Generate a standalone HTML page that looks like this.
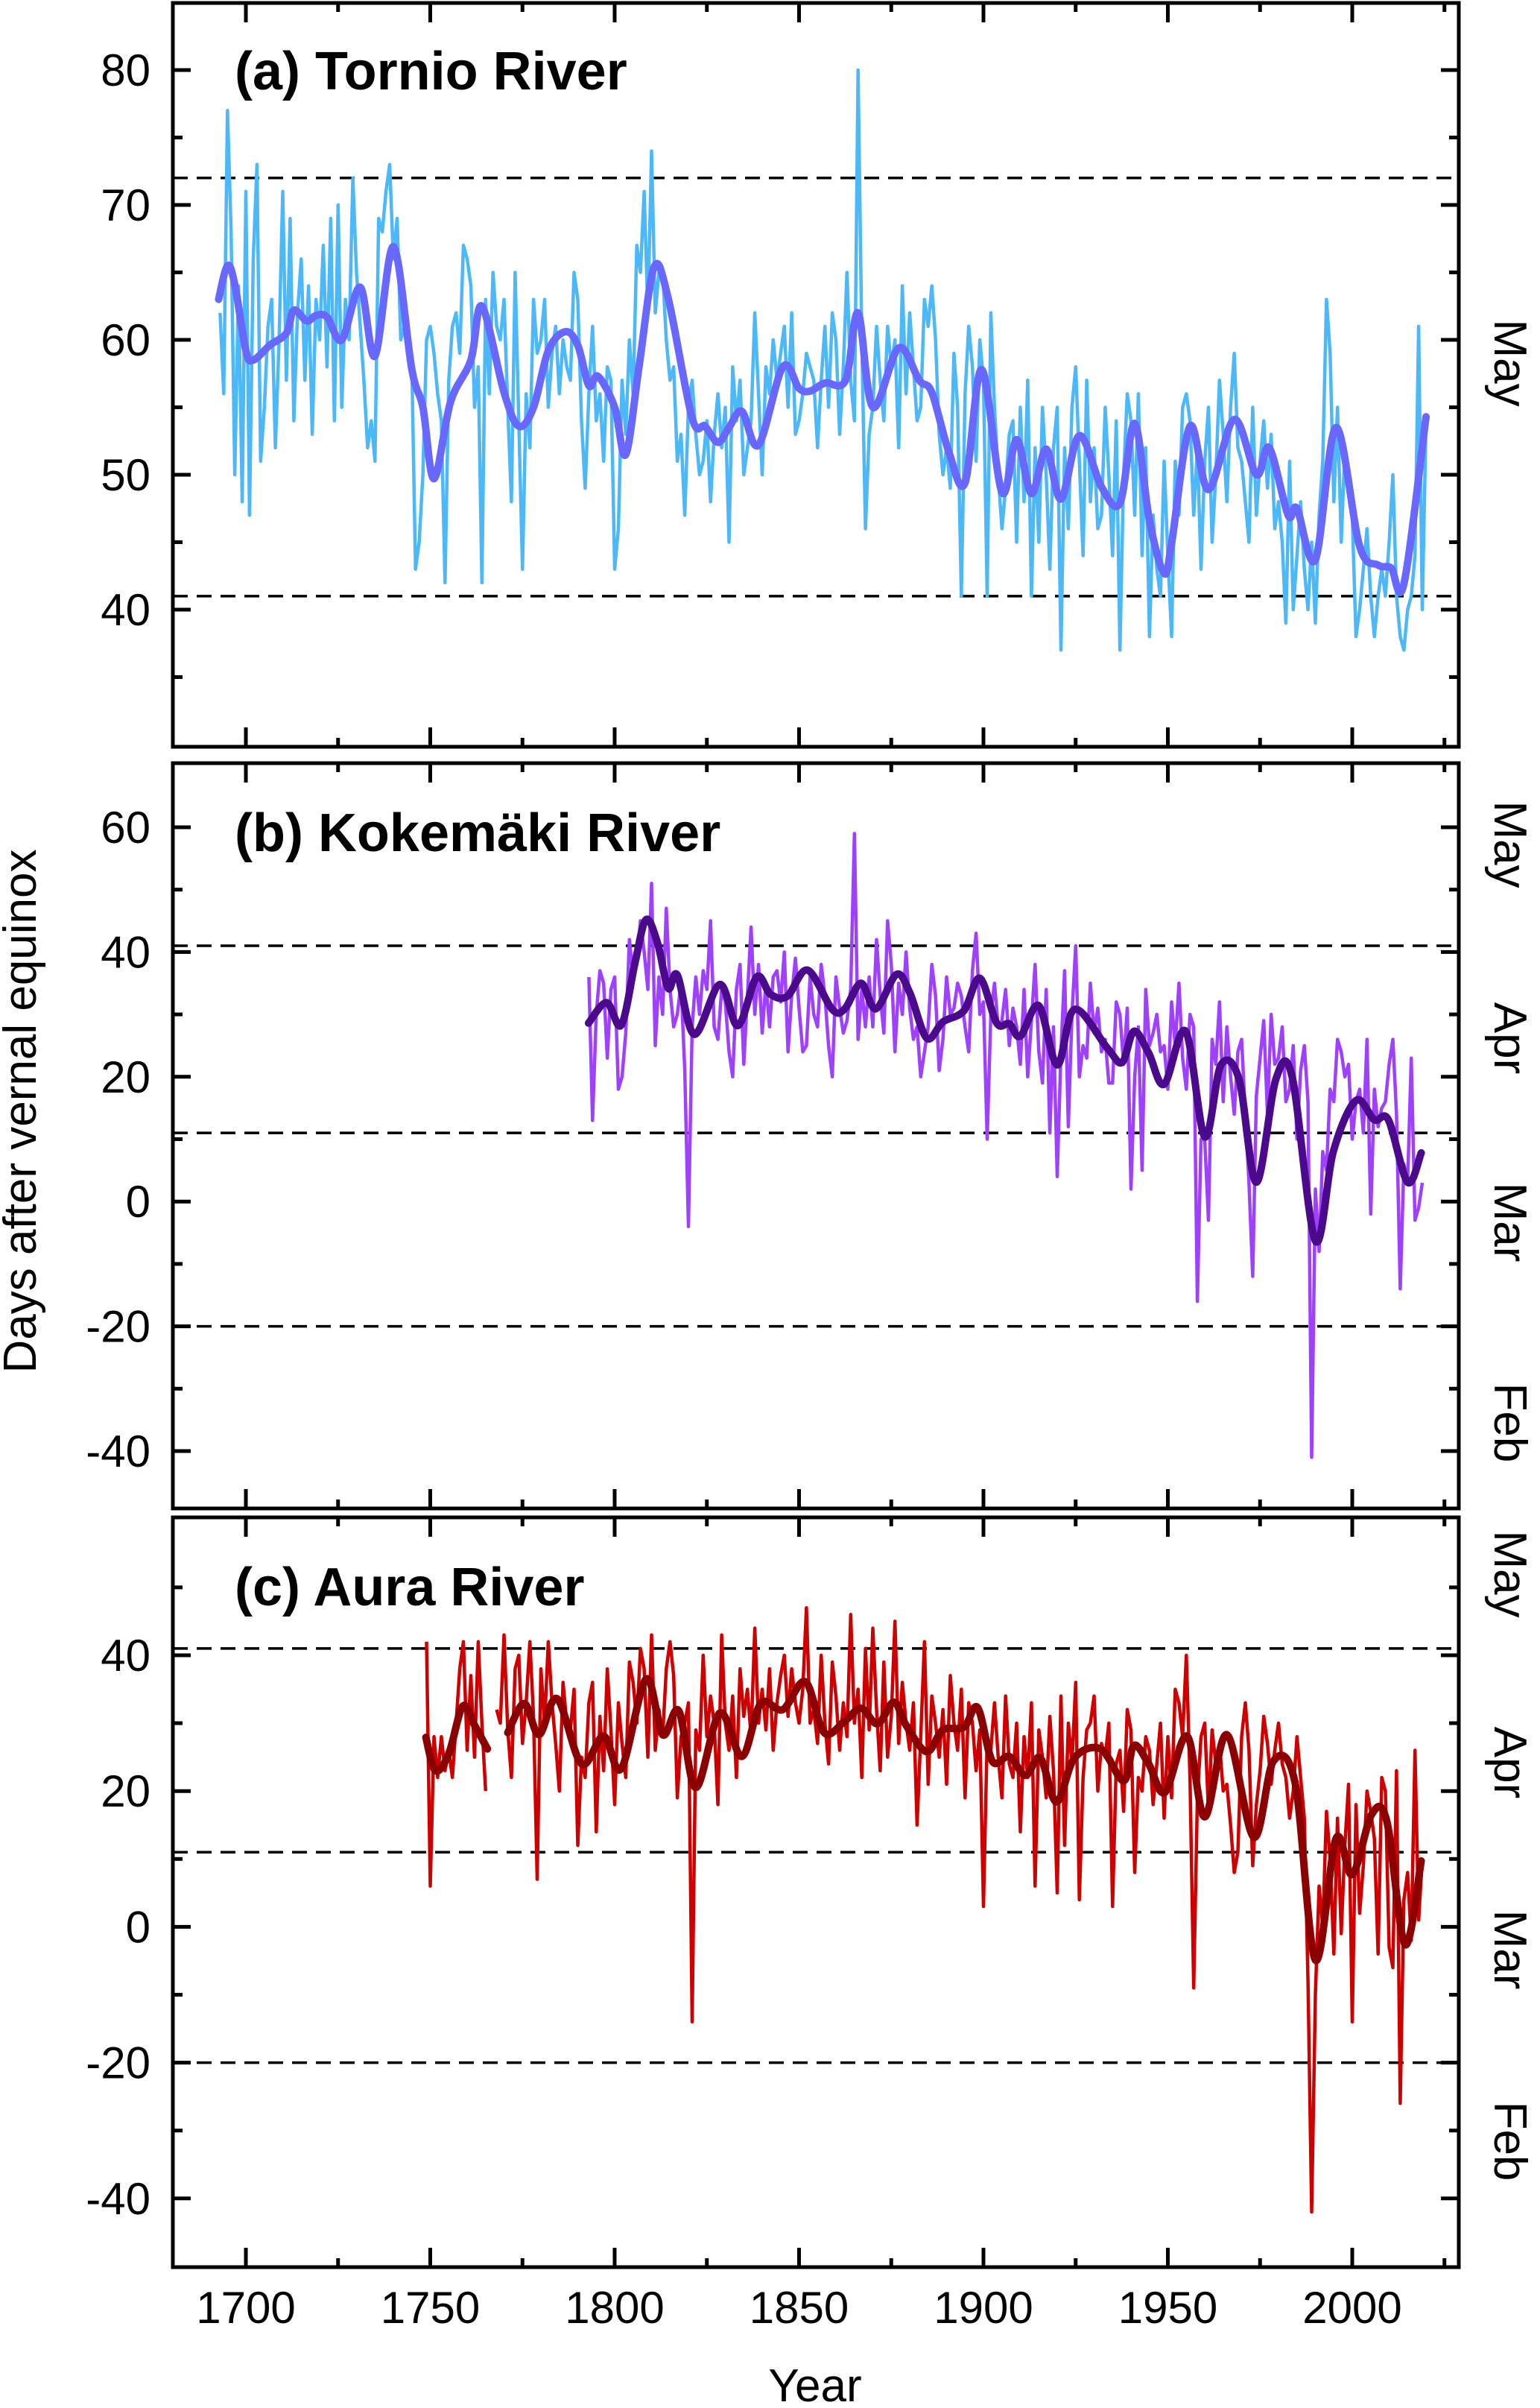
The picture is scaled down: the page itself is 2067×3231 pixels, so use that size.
<!DOCTYPE html>
<html><head><meta charset="utf-8"><style>
html,body{margin:0;padding:0;background:#fff;}
svg{display:block;font-family:"Liberation Sans",Arial,sans-serif;}
</style></head><body>
<svg id="chart" width="2067" height="3231" viewBox="0 0 2067 3231" xmlns="http://www.w3.org/2000/svg">
<text x="0" y="0" transform="translate(48,1491) rotate(-90)" text-anchor="middle" font-size="62">Days after vernal equinox</text>
<text x="1094" y="3222" text-anchor="middle" font-size="62">Year</text>
<g id="panels"></g>
</svg>
<script>
// ---- data ----
const tornioYears0 = 1693;
const tornioRaw = [62,56,77,68,50,64,48,
71,47,66,73,51,55,61,63,52,60,
71,57,69,54,62,66,57,64,53,63,
60,67,58,69,54,70,55,63,60,72,
65,61,57,52,54,51,69,68,71,73,
66,69,60,61,59,58,43,45,50,60,
61,59,56,54,42,57,61,62,59,67,
66,64,55,58,42,63,56,65,61,60,
63,55,48,65,54,43,56,52,63,59,
60,63,55,59,61,56,60,58,57,65,
63,54,49,56,61,54,56,51,58,57,
43,46,57,53,60,56,67,65,71,62,
74,62,65,65,60,57,58,51,53,47,
55,57,53,50,51,54,48,53,56,52,
55,45,58,54,57,50,52,54,62,56,
50,58,56,60,57,59,61,55,62,53,
54,56,59,58,57,52,57,61,55,62,
60,53,58,65,57,54,80,60,46,53,
55,61,57,54,61,58,60,52,64,56,
62,58,54,55,63,61,64,60,53,50,
52,49,59,55,41,56,61,58,51,60,
57,41,62,55,50,46,49,53,54,45,
55,48,57,41,52,45,55,50,43,52,
55,37,52,46,55,58,51,44,57,48,
52,46,47,55,50,44,54,37,50,56,
54,47,56,44,52,38,47,43,41,51,
44,38,51,47,55,56,54,47,52,43,
51,55,45,50,57,53,48,55,59,52,
51,48,45,55,47,51,54,49,53,46,
48,45,39,51,40,44,48,43,40,45,
39,47,51,63,59,48,55,45,52,50,
47,38,40,43,46,41,38,41,43,41,
45,50,41,38,37,40,41,44,61,40,
54];
const tornioSmoothYears = [1692.6,1695,1697,1700,1702,1706.5,1711,1713,1716.5,1719,1722,1726,1731,1735,1740,1745,1748,1751,1755.5,1761,1764,1770,1774,1778,1782,1786.6,1790,1793,1795.5,1800,1803,1806.7,1810.7,1814.5,1821,1824.5,1828,1831,1834.5,1839,1845.6,1850,1853,1857,1862.6,1866,1870,1877,1882.6,1886,1890.6,1895,1899.5,1905,1909,1913,1917,1921,1926,1932,1937,1941,1945,1949,1951,1956,1961,1968,1974,1977.5,1982.6,1985,1990,1995.6,2002,2007,2010.5,2014,2020];
const tornioSmooth = [63.0,65.5,64.1,59.2,58.5,59.6,60.5,62.2,61.4,61.8,61.7,60.0,63.9,58.8,66.9,57.8,55.0,49.7,55.4,58.5,62.5,56.1,53.6,55.0,59.2,60.6,59.6,56.6,57.3,55.0,51.5,58.2,65.4,63.1,54.2,53.6,52.4,53.5,54.7,52.2,58.0,56.4,56.2,56.8,57.0,62.0,55.0,59.4,57.0,56.1,51.7,49.4,57.8,48.7,52.6,48.6,51.9,48.2,52.9,49.1,47.9,53.8,46.6,42.7,44.9,53.6,48.9,54.1,50.0,52.0,47.0,47.5,43.7,53.5,44.7,43.3,43.1,41.9,54.3];

const kokeYears0 = 1793;
const kokeRaw = [36,13,30,37,35,23,34,
36,18,20,27,42,36,38,45,40,34,
51,25,36,30,47,34,28,30,35,21,
-4,28,36,30,37,34,45,28,26,34,
32,24,20,34,38,22,33,44,30,38,
27,35,28,36,37,32,40,24,33,39,
31,24,25,36,30,28,38,33,25,20,
36,31,27,29,34,59,26,34,28,36,
28,42,33,27,45,38,24,35,30,40,
31,26,28,20,24,28,38,33,21,26,
36,30,31,35,33,28,24,37,43,30,
32,10,30,35,28,29,34,25,31,28,
22,34,20,29,38,24,19,34,11,28,
4,24,37,12,30,41,20,25,23,35,
27,31,24,26,19,19,32,30,22,31,
2,20,28,5,34,25,27,30,24,25,
18,32,25,35,23,18,30,28,-16,10,
10,-3,26,22,32,16,28,20,14,24,
26,14,3,-12,17,23,29,14,30,22,
23,28,16,18,25,10,21,25,16,-41,
2,-8,8,5,18,16,26,24,20,22,
10,16,18,11,26,-2,18,12,15,16,
22,26,14,-14,6,3,23,-3,-1,3];
const kokeSmoothYears = [1792.9,1797.8,1801.8,1805.6,1808.5,1811.6,1814.5,1817,1821.6,1828.5,1833.4,1838.5,1842.3,1846.8,1852.3,1859,1862.4,1866.8,1870.8,1876.4,1880,1884.6,1889,1894.7,1899,1903.6,1907,1910,1915,1920,1924.7,1933.6,1937.6,1940.8,1944.8,1949,1954.8,1960,1964.4,1969.3,1974,1979.3,1983.7,1990,1994.9,2001,2006,2009.8,2015,2018.7];
const kokeSmooth = [28.6,31.9,28.3,38.5,45.2,41.5,34.2,36.3,26.8,34.8,28.2,36.0,33.2,32.9,37.1,30.8,30.9,35.0,30.9,36.4,33.5,26.2,28.8,30.6,35.8,28.6,28.5,26.5,31.4,21.9,30.8,24.6,22.3,27.3,23.8,18.8,27.3,10.4,21.9,19.6,3.1,19.6,20.0,-6.3,8.1,16.2,13.1,13.1,3.1,7.8];

const auraYears0 = 1749;
const auraRaw = [42,
6,28,22,28,23,26,22,30,38,42,
26,37,25,42,30,20,null,null,32,30,
43,29,22,38,40,27,33,42,31,7,
38,30,42,33,27,20,36,30,29,35,
12,25,22,33,36,14,31,23,38,29,
18,33,27,22,39,36,30,41,38,25,
43,26,32,28,38,42,37,19,28,30,
33,-14,29,26,40,28,34,30,18,43,
30,26,34,22,38,31,35,28,44,30,
35,29,38,26,33,37,40,31,38,33,
30,35,47,30,32,27,40,30,24,39,
34,26,33,28,46,30,35,22,41,29,
44,32,23,39,25,31,45,27,36,30,
26,33,15,28,42,21,34,30,25,32,
21,37,30,26,35,19,33,30,23,29,
3,28,26,33,25,19,34,24,22,30,
14,28,22,33,6,29,25,19,31,23,
5,34,12,30,24,36,4,22,29,30,
34,20,27,25,30,3,24,26,17,32,
29,8,22,20,28,26,18,24,30,16,
28,19,35,33,28,40,22,-9,19,28,
30,17,29,24,27,20,21,15,8,11,
28,33,26,9,18,23,31,27,21,26,
30,24,22,16,20,28,22,16,-8,-42,
-10,6,0,17,10,-4,16,-1,12,21,
-14,18,2,9,20,17,13,-4,22,20,
-3,-6,23,-26,4,8,-2,26,1,10];
const auraSmoothYears = [1748.8,1751.4,1755,1758.8,1762,1765.5,null,1771,1775.5,1779.5,1784.4,1791,1797,1801.8,1808.5,1813,1817.4,1822,1828.5,1834.5,1839.6,1845.6,1851.7,1856.8,1862.4,1866.8,1871.3,1875.7,1879,1884.6,1889,1894.7,1898.4,1902.4,1907,1911.4,1915.4,1919.8,1924.7,1931.8,1938,1940.8,1944.8,1949.2,1955.2,1960,1966,1973.3,1978.6,1984.5,1990,1995.6,2000,2005.3,2009.4,2014.3,2018.7];
const auraSmooth = [27.9,23.0,25.5,32.5,29.7,26.2,null,28.6,32.9,28.3,33.6,24.0,28.1,23.3,36.5,28.3,31.8,20.5,31.5,25.1,32.9,32.0,36.1,28.6,30.3,32.2,29.9,33.1,29.7,25.8,29.0,29.4,32.3,24.4,25.1,22.3,24.9,18.4,24.9,26.2,21.5,26.7,24.0,19.8,28.1,16.2,28.3,13.2,24.4,21.2,-4.9,13.0,7.7,16.6,15.5,-2.6,9.7];

const xTickYears = [1700,1750,1800,1850,1900,1950,2000];
const tornioTicks = [40,50,60,70,80];
const kokeTicks = [-40,-20,0,20,40,60];
const auraTicks = [-40,-20,0,20,40];
const dashLevelsA = [72,41];
const dashLevelsBC = [41,11,-20];

// ---- layout ----
const L=232, R=1958;
function xs(yr){return 330+(yr-1700)*4.95;}
const panels=[
 {key:'a',top:4,bottom:1002,vmax:80,v0y:94,ppu:18.1,ticks:tornioTicks,minorStep:5,vmin:30,vtop:85,dashes:dashLevelsA,
  title:'(a) Tornio River',titleY:120,raw:tornioRaw,y0:tornioYears0,sy:tornioSmoothYears,sv:tornioSmooth,rawC:'#4db8f8',smC:'#6868ff',
  months:[['May',487]]},
 {key:'b',top:1024,bottom:2024,vmax:60,v0y:1110,ppu:8.37,ticks:kokeTicks,minorStep:10,vmin:-50,vtop:70,dashes:dashLevelsBC,
  title:'(b) Kokemäki River',titleY:1142,raw:kokeRaw,y0:kokeYears0,sy:kokeSmoothYears,sv:kokeSmooth,rawC:'#a040ff',smC:'#4b0a8c',
  months:[['May',1133],['Apr',1393],['Mar',1640],['Feb',1909]]},
 {key:'c',top:2036,bottom:3042,vmax:40,v0y:2221,ppu:9.11,ticks:auraTicks,minorStep:10,vmin:-50,vtop:60,dashes:dashLevelsBC,
  title:'(c) Aura River',titleY:2154,raw:auraRaw,y0:auraYears0,sy:auraSmoothYears,sv:auraSmooth,rawC:'#d00000',smC:'#8b0000',
  months:[['May',2112],['Apr',2365],['Mar',2616],['Feb',2873]]}
];
const NS='http://www.w3.org/2000/svg';
const root=document.getElementById('panels');
function mk(tag,attrs,parent){const e=document.createElementNS(NS,tag);for(const k in attrs)e.setAttribute(k,attrs[k]);(parent||root).appendChild(e);return e;}
function pathFrom(xsArr,ysArr){let d='',pen=false;for(let i=0;i<xsArr.length;i++){if(xsArr[i]==null||ysArr[i]==null){pen=false;continue;}d+=(pen?'L':'M')+xsArr[i].toFixed(1)+' '+ysArr[i].toFixed(1);pen=true;}return d;}
function smoothPath(xsArr,ysArr){
  // split into segments at nulls, catmull-rom each
  let d='';let seg=[];
  const flush=()=>{
    if(seg.length===0)return;
    d+='M'+seg[0][0].toFixed(1)+' '+seg[0][1].toFixed(1);
    for(let i=0;i<seg.length-1;i++){
      const p0=seg[Math.max(0,i-1)],p1=seg[i],p2=seg[i+1],p3=seg[Math.min(seg.length-1,i+2)];
      const c1x=p1[0]+(p2[0]-p0[0])/6,c1y=p1[1]+(p2[1]-p0[1])/6;
      const c2x=p2[0]-(p3[0]-p1[0])/6,c2y=p2[1]-(p3[1]-p1[1])/6;
      d+='C'+c1x.toFixed(1)+' '+c1y.toFixed(1)+' '+c2x.toFixed(1)+' '+c2y.toFixed(1)+' '+p2[0].toFixed(1)+' '+p2[1].toFixed(1);
    }
    seg=[];
  };
  for(let i=0;i<xsArr.length;i++){if(xsArr[i]==null||ysArr[i]==null){flush();continue;}seg.push([xsArr[i],ysArr[i]]);}
  flush();return d;
}

panels.forEach(p=>{
  const g=mk('g',{});
  
  
  const ys=v=>p.v0y+(p.vmax-v)*p.ppu;
  const clip=mk('clipPath',{id:'clip-'+p.key},g);
  mk('rect',{x:L,y:p.top,width:R-L,height:p.bottom-p.top},clip);
  p.dashes.forEach(v=>{
    const l=mk('line',{x1:L,x2:R,y1:ys(v),y2:ys(v),stroke:'#000','stroke-width':3.5,'stroke-dasharray':'20 12'},g);
    
    
  });
  const rx=[],ry=[];
  p.raw.forEach((v,i)=>{rx.push(v==null?null:xs(p.y0+i));ry.push(v==null?null:ys(v));});
  const raw=mk('path',{d:pathFrom(rx,ry),fill:'none',stroke:p.rawC,'stroke-width':4.5,'stroke-linejoin':'round','clip-path':'url(#clip-'+p.key+')'},g);
  
  
  const sx=p.sy.map(y=>y==null?null:xs(y)), sy2=p.sv.map(v=>v==null?null:ys(v));
  const sm=mk('path',{d:smoothPath(sx,sy2),fill:'none',stroke:p.smC,'stroke-width':10,'stroke-linejoin':'round','stroke-linecap':'round'},g);
  
  
  const fr=mk('rect',{x:L,y:p.top,width:R-L,height:p.bottom-p.top,fill:'none',stroke:'#000','stroke-width':5},g);
  
  
  for(let v=Math.ceil(p.vmin/p.minorStep)*p.minorStep; v<=p.vtop; v+=p.minorStep){
    const y=ys(v); if(y<p.top+3||y>p.bottom-3) continue;
    const major=p.ticks.indexOf(v)>=0;
    const len=major?24:13;
    mk('line',{x1:L,x2:L+len,y1:y,y2:y,stroke:'#000','stroke-width':5},g);
    mk('line',{x1:R,x2:R-len,y1:y,y2:y,stroke:'#000','stroke-width':5},g);
    if(major){
      const t=mk('text',{x:202,y:y+21,'text-anchor':'end','font-size':60},g);
      t.textContent=v;
      
      
    }
  }
  for(let yr=1700; yr<=2025; yr+=25){
    const x=xs(yr); const major=yr%50===0; const len=major?26:12;
    mk('line',{x1:x,x2:x,y1:p.top,y2:p.top+len,stroke:'#000','stroke-width':5},g);
    mk('line',{x1:x,x2:x,y1:p.bottom,y2:p.bottom-len,stroke:'#000','stroke-width':5},g);
  }
  const tt=mk('text',{x:315,y:p.titleY,'font-size':72,'font-weight':'bold'},g);
  tt.textContent=p.title;
  
  
  p.months.forEach(m=>{
    const t=mk('text',{x:0,y:0,transform:'translate(2006,'+m[1]+') rotate(90)','text-anchor':'middle','font-size':62},g);
    t.textContent=m[0];
    
    
  });
});
xTickYears.forEach(yr=>{
  const t=mk('text',{x:xs(yr),y:3117,'text-anchor':'middle','font-size':60});
  t.textContent=yr;
  
  
});
</script>
</body></html>
